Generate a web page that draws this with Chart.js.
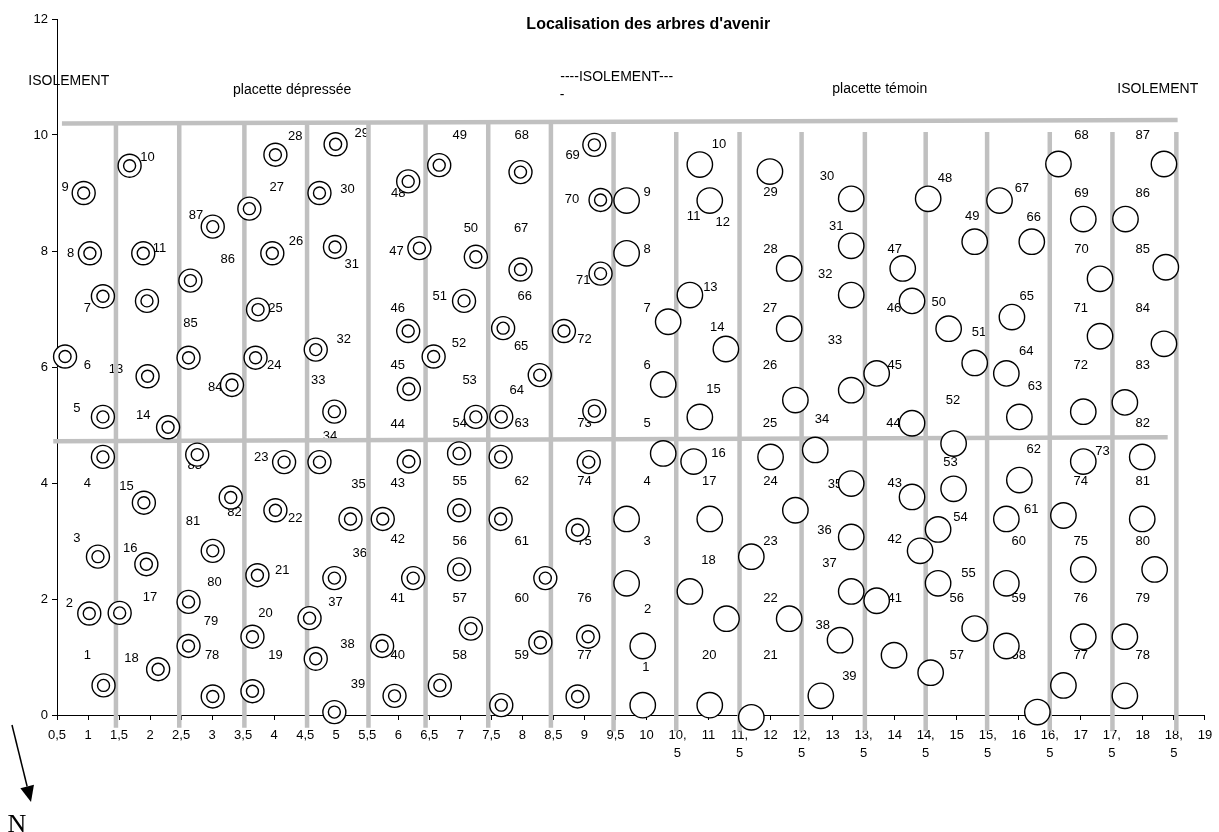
<!DOCTYPE html>
<html>
<head>
<meta charset="utf-8">
<title>Localisation des arbres d'avenir</title>
<script src="https://cdn.jsdelivr.net/npm/chart.js@4.4.1/dist/chart.umd.min.js"></script>
<style>
  html, body { margin: 0; padding: 0; background: #fff; }
  #wrap { width: 1219px; height: 832px; }
</style>
</head>
<body>
<div id="wrap"><canvas id="chart"></canvas></div>
<script>
// tree positions, placette dépressée (double circles)
const deprX = [1.67, 4.02, 4.99, 6.66, 7.97, 9.16,
  0.93, 4.73, 6.16, 9.26, 3.60,
  3.01, 1.03, 1.89, 3.97, 4.98, 6.34, 7.25, 7.97, 9.26, 2.65,
  1.24, 1.95, 3.74, 7.06, 6.16, 7.69, 8.67,
  0.63, 1.96, 2.62, 3.70, 4.67, 6.57, 3.32, 6.17, 8.28,
  1.24, 2.29, 4.97, 7.25, 7.66, 9.16,
  1.24, 2.76, 4.16, 4.73, 6.17, 6.98, 7.65, 9.07,
  1.90, 3.30, 4.02, 5.23, 5.75, 6.98, 7.65, 8.89,
  1.16, 1.94, 3.01, 3.73, 4.97, 6.24, 6.98, 8.37,
  1.02, 1.51, 2.62, 4.57, 2.62, 3.65, 4.67, 5.74, 7.17, 8.29, 9.06,
  1.25, 2.13, 3.01, 3.65, 4.97, 5.94, 6.67, 7.66, 8.89];
const deprY = [9.47, 9.66, 9.84, 9.48, 9.36, 9.83,
  9.0, 9.0, 9.2, 8.88, 8.73,
  8.42, 7.96, 7.96, 7.96, 8.07, 8.05, 7.9, 7.68, 7.61, 7.49,
  7.22, 7.14, 6.99, 7.14, 6.62, 6.67, 6.62,
  6.18, 5.84, 6.16, 6.16, 6.3, 6.18, 5.69, 5.62, 5.86,
  5.14, 4.96, 5.23, 5.14, 5.14, 5.24,
  4.45, 4.49, 4.36, 4.36, 4.37, 4.51, 4.45, 4.36,
  3.66, 3.75, 3.53, 3.38, 3.38, 3.53, 3.38, 3.19,
  2.73, 2.6, 2.83, 2.41, 2.36, 2.36, 2.51, 2.36,
  1.75, 1.76, 1.95, 1.67, 1.19, 1.35, 0.97, 1.19, 1.49, 1.25, 1.35,
  0.51, 0.79, 0.32, 0.41, 0.05, 0.33, 0.51, 0.17, 0.32];

// tree positions, placette témoin (single circles)
const temX = [9.68, 10.86, 11.02, 11.99, 13.30, 14.54, 15.69, 16.64, 18.34, 17.04, 17.72,
  9.68, 12.30, 13.30, 14.13, 15.29, 16.21, 17.31, 18.37,
  10.35, 10.70, 11.28, 12.30, 13.30, 14.28, 14.87, 15.89, 17.31, 18.34,
  10.27, 10.86, 12.40, 13.30, 13.71, 15.29, 15.80, 16.01, 17.04, 17.71,
  14.28,
  10.27, 10.76, 12.00, 12.72, 14.95, 17.04, 17.99,
  13.30, 14.95, 16.01, 14.28,
  9.68, 11.02, 12.40, 15.80, 16.72, 17.99, 14.70, 13.30, 14.41,
  11.69, 9.68, 10.70, 17.04, 18.19, 14.70, 15.80, 13.30, 13.71,
  9.94, 11.29, 12.30, 15.29, 13.12, 13.99, 15.80, 17.04, 17.71,
  9.94, 11.02, 11.69, 12.81, 14.58, 16.72, 17.71, 16.30];
const temY = [8.87, 9.49, 8.87, 9.37, 8.90, 8.90, 8.87, 9.50, 9.50, 8.55, 8.55,
  7.96, 7.70, 8.09, 7.70, 8.16, 8.16, 7.52, 7.72,
  6.78, 7.24, 6.31, 6.66, 7.24, 7.14, 6.66, 6.86, 6.53, 6.40,
  5.70, 5.14, 5.43, 5.60, 5.89, 6.07, 5.89, 5.14, 5.23, 5.39,
  5.03,
  4.51, 4.37, 4.45, 4.57, 4.68, 4.37, 4.45,
  3.99, 3.90, 4.05, 3.76,
  3.38, 3.38, 3.53, 3.38, 3.44, 3.38, 3.20, 3.07, 2.83,
  2.73, 2.27, 2.13, 2.51, 2.51, 2.27, 2.27, 2.13, 1.97,
  1.19, 1.66, 1.66, 1.49, 1.29, 1.03, 1.19, 1.35, 1.35,
  0.17, 0.17, -0.04, 0.33, 0.73, 0.51, 0.33, 0.05];

// tree numbers [text, x, y]
const deprLabels = [
  ["9", 0.63, 9.09], ["10", 1.96, 9.62], ["28", 4.34, 9.97], ["29", 5.41, 10.03], ["27", 4.04, 9.1],
  ["30", 5.18, 9.06], ["87", 2.74, 8.62], ["48", 6.0, 9.0], ["49", 6.99, 10.0], ["68", 7.99, 10.0],
  ["69", 8.81, 9.64], ["70", 8.8, 8.89],
  ["8", 0.72, 7.95], ["11", 2.15, 8.05], ["86", 3.25, 7.86], ["26", 4.35, 8.16], ["31", 5.25, 7.76],
  ["47", 5.97, 8.0], ["50", 7.17, 8.39], ["67", 7.98, 8.39], ["71", 8.98, 7.5],
  ["7", 0.99, 7.01], ["12", 1.99, 7.04], ["25", 4.02, 7.01], ["85", 2.65, 6.75], ["46", 5.99, 7.01],
  ["51", 6.67, 7.22], ["66", 8.04, 7.21], ["72", 9.0, 6.47], ["52", 6.98, 6.4], ["65", 7.98, 6.36],
  ["6", 0.99, 6.02], ["13", 1.45, 5.96], ["24", 4.0, 6.02], ["84", 3.05, 5.64], ["32", 5.12, 6.48],
  ["33", 4.71, 5.76], ["45", 5.99, 6.02], ["53", 7.15, 5.76], ["64", 7.91, 5.59],
  ["5", 0.82, 5.29], ["14", 1.89, 5.17], ["44", 5.99, 5.01], ["54", 6.99, 5.02], ["63", 7.99, 5.02],
  ["73", 9.0, 5.02], ["34", 4.9, 4.81],
  ["83", 2.72, 4.31], ["23", 3.79, 4.44],
  ["4", 0.99, 4.0], ["15", 1.62, 3.94], ["35", 5.36, 3.98], ["43", 5.99, 4.0], ["55", 6.99, 4.02],
  ["62", 7.99, 4.02], ["74", 9.0, 4.02],
  ["81", 2.69, 3.33], ["82", 3.36, 3.5], ["22", 4.34, 3.39], ["42", 5.99, 3.02], ["56", 6.99, 3.0],
  ["61", 7.99, 3.0], ["75", 9.0, 3.0],
  ["3", 0.82, 3.05], ["16", 1.68, 2.87], ["36", 5.38, 2.79], ["21", 4.13, 2.5], ["80", 3.04, 2.29],
  ["2", 0.70, 1.93], ["17", 2.0, 2.03], ["37", 4.99, 1.94], ["41", 5.99, 2.01], ["57", 6.99, 2.01],
  ["60", 7.99, 2.01], ["76", 9.0, 2.01],
  ["79", 2.98, 1.61], ["20", 3.86, 1.75], ["38", 5.18, 1.22],
  ["1", 0.99, 1.02], ["18", 1.70, 0.97], ["78", 3.0, 1.02], ["19", 4.02, 1.02], ["40", 5.99, 1.02],
  ["58", 6.99, 1.02], ["59", 7.99, 1.02], ["77", 9.0, 1.02],
  ["39", 5.35, 0.52]
];
const temLabels = [
  ["9", 10.01, 9.01], ["10", 11.17, 9.83], ["11", 10.76, 8.6], ["12", 11.23, 8.49], ["29", 12.0, 9.01],
  ["30", 12.91, 9.28], ["48", 14.81, 9.25], ["67", 16.05, 9.08], ["68", 17.01, 10.0], ["87", 18.0, 10.0],
  ["69", 17.01, 9.0], ["86", 18.0, 9.0],
  ["8", 10.01, 8.03], ["28", 12.0, 8.03], ["31", 13.06, 8.43], ["47", 14.0, 8.02], ["49", 15.25, 8.6],
  ["66", 16.24, 8.58], ["70", 17.01, 8.02], ["85", 18.0, 8.02],
  ["7", 10.01, 7.01], ["13", 11.03, 7.37], ["14", 11.14, 6.68], ["27", 11.99, 7.01], ["32", 12.88, 7.6],
  ["46", 13.99, 7.01], ["50", 14.71, 7.11], ["65", 16.13, 7.22], ["71", 17.0, 7.01], ["84", 18.0, 7.01],
  ["6", 10.01, 6.02], ["26", 11.99, 6.02], ["33", 13.04, 6.45], ["45", 14.0, 6.02], ["51", 15.36, 6.59],
  ["64", 16.12, 6.26], ["72", 17.0, 6.02], ["83", 18.0, 6.02],
  ["15", 11.08, 5.62], ["63", 16.26, 5.67], ["52", 14.94, 5.43],
  ["5", 10.01, 5.02], ["25", 11.99, 5.02], ["34", 12.83, 5.09], ["44", 13.98, 5.02], ["82", 18.0, 5.02],
  ["16", 11.16, 4.51], ["62", 16.24, 4.58], ["73", 17.35, 4.55], ["53", 14.9, 4.35],
  ["4", 10.01, 4.02], ["17", 11.01, 4.02], ["24", 12.0, 4.02], ["35", 13.04, 3.97], ["43", 14.0, 4.0],
  ["74", 17.0, 4.02], ["81", 18.0, 4.02],
  ["61", 16.2, 3.54], ["54", 15.06, 3.4],
  ["3", 10.01, 3.0], ["23", 12.0, 3.0], ["36", 12.87, 3.19], ["42", 14.0, 3.02], ["60", 16.0, 3.0],
  ["75", 17.0, 3.0], ["80", 18.0, 3.0],
  ["18", 11.0, 2.67], ["37", 12.95, 2.61], ["55", 15.19, 2.44],
  ["22", 12.0, 2.01], ["41", 14.0, 2.01], ["56", 15.0, 2.01], ["59", 16.0, 2.01], ["76", 17.0, 2.01],
  ["79", 18.0, 2.01],
  ["2", 10.02, 1.82], ["38", 12.84, 1.55],
  ["20", 11.01, 1.02], ["21", 12.0, 1.02], ["40", 14.0, 1.02], ["57", 15.0, 1.02], ["58", 16.0, 1.02],
  ["77", 17.0, 1.02], ["78", 18.0, 1.02],
  ["1", 9.99, 0.82], ["39", 13.27, 0.67], ["19", 11.02, 0.17]
];

// captions above the plots
const captionText = ["ISOLEMENT", "placette dépressée", "----ISOLEMENT---", "-", "placette témoin", "ISOLEMENT"];
const captionX = [0.69, 4.29, 9.52, 8.64, 13.76, 18.24];
const captionY = [10.93, 10.78, 11.0, 10.69, 10.79, 10.79];

// grey row separators
const deprRowX = [1.45, 2.47, 3.52, 4.53, 5.52, 6.44, 7.45, 8.46];
const temRowX = [9.47, 10.48, 11.5, 12.5, 13.52, 14.5, 15.49, 16.5, 17.51, 18.54];
const deprRowSpan = [10.2, -0.22];
const temRowSpan = [10.05, -0.28];
const topBorder = [[0.58, 10.2], [18.56, 10.26]];
const midBorder = [[0.44, 4.72], [18.4, 4.79]];

const FONT = "'Liberation Sans', Arial, sans-serif";

function greyLine(pts) {
  return {
    type: "scatter",
    showLine: true,
    data: pts,
    borderColor: "#c0c0c0",
    borderWidth: 4.5,
    pointRadius: 0,
    borderCapStyle: "butt",
    clip: false,
    order: 5,
  };
}

const lineSets = [
  ...deprRowX.map((x) => greyLine([{ x, y: deprRowSpan[0] }, { x, y: deprRowSpan[1] }])),
  ...temRowX.map((x) => greyLine([{ x, y: temRowSpan[0] }, { x, y: temRowSpan[1] }])),
  greyLine(topBorder.map(([x, y]) => ({ x, y }))),
  greyLine(midBorder.map(([x, y]) => ({ x, y }))),
];

function circles(xs, ys, r, order) {
  return {
    type: "scatter",
    data: xs.map((x, i) => ({ x, y: ys[i] })),
    pointRadius: r,
    pointBackgroundColor: "#fff",
    pointBorderColor: "#000",
    pointBorderWidth: 1.4,
    clip: false,
    order,
  };
}

function fmtTick(v) {
  if (Number.isInteger(v)) return String(v);
  if (v < 10) return String(v).replace(".", ",");
  return [Math.floor(v) + ",", "5"];
}

const annotations = {
  id: "annotations",
  beforeDatasetsDraw(chart) {
    const { ctx, scales: { x, y } } = chart;
    ctx.save();
    ctx.fillStyle = "#000";
    ctx.font = "13px " + FONT;
    ctx.textAlign = "center";
    ctx.textBaseline = "middle";
    [...deprLabels, ...temLabels].forEach(([t, vx, vy]) => {
      ctx.fillText(t, x.getPixelForValue(vx), y.getPixelForValue(vy));
    });
    ctx.restore();
  },
  afterDraw(chart) {
    const { ctx, chartArea, scales: { x, y } } = chart;
    ctx.save();
    ctx.fillStyle = "#000";
    ctx.textAlign = "center";
    ctx.textBaseline = "middle";
    ctx.font = "bold 16px " + FONT;
    ctx.fillText("Localisation des arbres d'avenir", x.getPixelForValue(10.03), y.getPixelForValue(11.9));
    ctx.font = "14px " + FONT;
    captionText.forEach((t, i) => {
      ctx.fillText(t, x.getPixelForValue(captionX[i]), y.getPixelForValue(captionY[i]));
    });

    // north arrow
    const x0 = chartArea.left - 45, y0 = chartArea.bottom + 10;
    const x1 = chartArea.left - 26, y1 = chartArea.bottom + 87;
    const dx = x1 - x0, dy = y1 - y0, len = Math.hypot(dx, dy);
    const ux = dx / len, uy = dy / len;
    const bx = x1 - ux * 16, by = y1 - uy * 16;
    ctx.strokeStyle = "#000";
    ctx.lineWidth = 1.5;
    ctx.beginPath();
    ctx.moveTo(x0, y0);
    ctx.lineTo(bx, by);
    ctx.stroke();
    ctx.beginPath();
    ctx.moveTo(x1, y1);
    ctx.lineTo(bx - uy * 7, by + ux * 7);
    ctx.lineTo(bx + uy * 7, by - ux * 7);
    ctx.closePath();
    ctx.fill();
    ctx.font = "26px 'Liberation Serif', 'Times New Roman', serif";
    ctx.textBaseline = "alphabetic";
    ctx.fillText("N", chartArea.left - 40, chartArea.bottom + 117);
    ctx.restore();
  },
};

new Chart(document.getElementById("chart"), {
  type: "scatter",
  data: {
    datasets: [
      circles(deprX, deprY, 6, 0),
      circles(deprX, deprY, 11.5, 1),
      circles(temX, temY, 12.7, 1),
      ...lineSets,
    ],
  },
  options: {
    responsive: true,
    maintainAspectRatio: false,
    animation: false,
    events: [],
    layout: { padding: { top: 19, right: 10, left: 0, bottom: 0 } },
    plugins: { legend: { display: false }, tooltip: { enabled: false } },
    scales: {
      x: {
        type: "linear",
        min: 0.5,
        max: 19,
        afterFit(s) { s.height = 117; },
        border: { display: true, color: "#000", width: 1 },
        grid: { drawOnChartArea: false, drawTicks: true, tickLength: 5, color: "#000" },
        ticks: {
          stepSize: 0.5,
          autoSkip: false,
          maxRotation: 0,
          minRotation: 0,
          padding: 6,
          color: "#000",
          font: { family: FONT, size: 13, lineHeight: 1.4 },
          callback: fmtTick,
        },
      },
      y: {
        type: "linear",
        min: 0,
        max: 12,
        afterFit(s) { s.width = 57; },
        border: { display: true, color: "#000", width: 1 },
        grid: { drawOnChartArea: false, drawTicks: true, tickLength: 5, color: "#000" },
        ticks: { stepSize: 2, padding: 4, color: "#000", font: { family: FONT, size: 13 } },
      },
    },
  },
  plugins: [annotations],
});
</script>
</body>
</html>
